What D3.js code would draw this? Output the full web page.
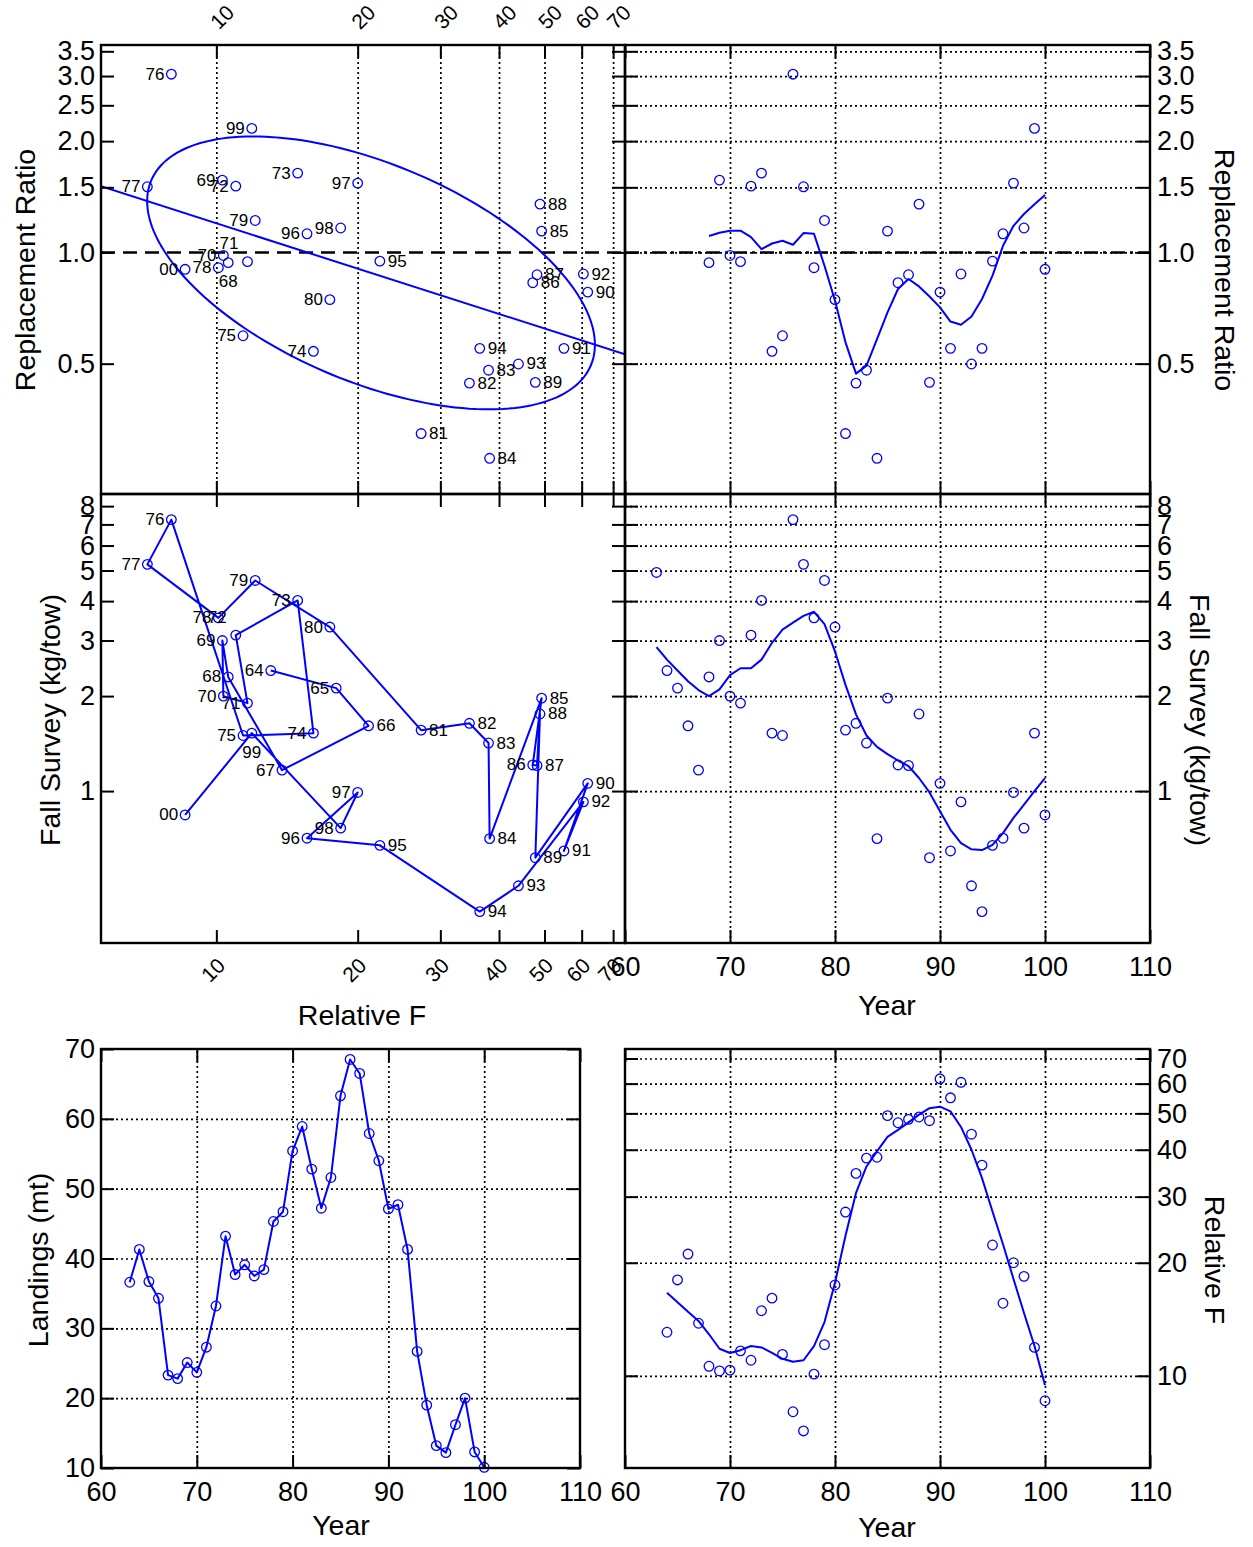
<!DOCTYPE html>
<html><head><meta charset="utf-8">
<script src="https://cdn.jsdelivr.net/npm/d3@7"></script>
<style>body{margin:0;background:#fff}</style>
</head><body>
<script>
// ---------------- DATA ----------------
const yearsAll = [63,64,65,66,67,68,69,70,71,72,73,74,75,76,77,78,79,80,81,82,83,84,85,86,87,88,89,90,91,92,93,94,95,96,97,98,99,100];
const landings = [36.6,41.3,36.7,34.3,23.3,22.8,25.1,23.7,27.3,33.2,43.2,37.7,39.1,37.5,38.4,45.3,46.7,55.4,58.9,52.8,47.2,51.6,63.3,68.5,66.5,57.9,54.0,47.1,47.7,41.3,26.7,19.0,13.2,12.2,16.2,20.0,12.3,10.1];
const fallSurvey = [4.93,2.41,2.12,1.61,1.165,2.30,3.00,2.00,1.90,3.12,4.02,1.526,1.50,7.25,5.23,3.54,4.65,3.31,1.56,1.64,1.42,0.707,1.97,1.21,1.205,1.755,0.615,1.058,0.646,0.924,0.501,0.415,0.673,0.709,0.99,0.763,1.526,0.84];
const fallSurveySmooth = [2.86,2.61,2.41,2.23,2.09,2.00,2.10,2.33,2.45,2.45,2.61,2.95,3.25,3.42,3.59,3.70,3.38,2.77,2.17,1.75,1.50,1.38,1.31,1.25,1.20,1.10,0.99,0.863,0.754,0.684,0.654,0.65,0.675,0.736,0.822,0.906,1.0,1.10];

const yearsF = [64,65,66,67,68,69,70,71,72,73,74,75,76,77,78,79,80,81,82,83,84,85,86,87,88,89,90,91,92,93,94,95,96,97,98,99,100];
const relF = [13.06,18.0,21.1,13.8,10.6,10.3,10.35,11.65,11.0,14.9,16.1,11.4,8.02,7.13,10.1,12.1,17.45,27.3,34.6,38.0,38.2,49.3,47.2,48.2,48.9,47.8,61.8,55.0,60.5,44.0,36.4,22.3,15.6,20.0,18.4,11.9,8.58];
const relFSmooth = [16.65,15.7,14.8,14.0,12.9,11.8,11.5,11.7,12.0,11.9,11.5,11.1,10.9,11.0,12.0,13.9,17.7,23.6,30.7,36.1,39.6,43.3,45.2,47.3,49.6,51.6,52.1,50.6,46.0,40.0,33.6,27.4,22.4,18.1,14.7,12.0,9.44];

const yearsRR = [68,69,70,71,72,73,74,75,76,77,78,79,80,81,82,83,84,85,86,87,88,89,90,91,92,93,94,95,96,97,98,99,100];
const repRatio = [0.938,1.569,0.981,0.944,1.511,1.639,0.540,0.595,3.035,1.505,0.909,1.22,0.745,0.3235,0.443,0.480,0.2773,1.142,0.828,0.870,1.351,0.445,0.781,0.550,0.874,0.499,0.550,0.947,1.123,1.540,1.164,2.165,0.90];
const repRatioSmooth = [1.107,1.13,1.145,1.145,1.10,1.02,1.057,1.075,1.049,1.128,1.123,0.92,0.74,0.571,0.47,0.494,0.583,0.688,0.796,0.847,0.809,0.760,0.710,0.65,0.637,0.671,0.748,0.865,1.042,1.18,1.27,1.35,1.43];

// ticks
const relFTicks = [10,20,30,40,50,60,70];
const rrTicks = [0.5,1.0,1.5,2.0,2.5,3.0,3.5];
const fsTicks = [1,2,3,4,5,6,7,8];
const yearTicks = [60,70,80,90,100,110];
const landTicks = [10,20,30,40,50,60,70];
const relFYTicks = [10,20,30,40,50,60,70];

// label placement (layout config): default 'l'
const tlLabelPos = {81:'r',82:'r',83:'r',84:'r',85:'r',86:'r',87:'r',88:'r',89:'r',90:'r',91:'r',92:'r',93:'r',94:'r',95:'r',68:'b',71:'ul'};
const mlLabelPos = {66:'r',81:'r',82:'r',83:'r',84:'r',85:'r',87:'r',88:'r',89:'r',90:'r',91:'r',92:'r',93:'r',94:'r',95:'r',72:'ul',99:'b'};

// ---------------- LAYOUT ----------------
const BLUE = '#0000ff';
const FONT = '"Liberation Sans", Arial, Helvetica, sans-serif';
const TICKFS = 27, TITLEFS = 28.5, LABFS = 17, ROTFS = 21;
const P = {
  TL:{x0:101,x1:625,y0:45,y1:494},
  TR:{x0:625,x1:1150,y0:45,y1:494},
  ML:{x0:101,x1:625,y0:494,y1:943},
  MR:{x0:625,x1:1150,y0:494,y1:943},
  BL:{x0:101,x1:580,y0:1049,y1:1468},
  BR:{x0:625,x1:1150,y0:1049,y1:1468}
};
const fDomain=[5.68,74.2], rrDomain=[0.222,3.64], fsDomain=[0.33,8.74], yrDomain=[60,110], landDomain=[10,70];
const ellipseScale = 1.575;

const svg = d3.select('body').append('svg').attr('width',1253).attr('height',1547);
svg.append('rect').attr('width',1253).attr('height',1547).attr('fill','#fff');

const yl = y => y===100 ? '00' : String(y);
const byYear = (ys, vs) => new Map(ys.map((y,i)=>[y,vs[i]]));
const fMap = byYear(yearsF, relF), fsMap = byYear(yearsAll, fallSurvey);

function grid(p, xs, ys, xt, yt){
  const g = svg.append('g');
  const st = s => s.attr('stroke','#000').attr('stroke-width',1.7).attr('stroke-dasharray','2,3');
  if (xt) g.append('g').attr('transform',`translate(0,${p.y1})`)
     .call(d3.axisBottom(xs).tickValues(xt.filter(t=>xs(t)>p.x0+2&&xs(t)<p.x1-2)).tickSize(-(p.y1-p.y0)).tickFormat(''))
     .call(a=>a.select('.domain').remove()).selectAll('line').call(st);
  if (yt) g.append('g').attr('transform',`translate(${p.x0},0)`)
     .call(d3.axisLeft(ys).tickValues(yt.filter(t=>ys(t)>p.y0+2&&ys(t)<p.y1-2)).tickSize(-(p.x1-p.x0)).tickFormat(''))
     .call(a=>a.select('.domain').remove()).selectAll('line').call(st);
}

function styleAxis(a, fs){
  a.select('.domain').remove();
  a.attr('font-family',FONT).attr('font-size',fs);
  a.selectAll('line').attr('stroke','#000').attr('stroke-width',2);
  a.selectAll('text').attr('fill','#000');
}

// frame: ticks on 4 sides inward, labels as configured
function frame(p, xs, ys, xt, yt, o){
  const L = 13;
  const g = svg.append('g');
  g.append('g').attr('transform',`translate(${p.x0},0)`)
    .call(d3.axisLeft(ys).tickValues(yt).tickSize(-L).tickPadding(6).tickFormat(o.yLeft ? o.yFmt : ''))
    .call(a=>styleAxis(a,TICKFS));
  g.append('g').attr('transform',`translate(${p.x1},0)`)
    .call(d3.axisRight(ys).tickValues(yt).tickSize(-L).tickPadding(7).tickFormat(o.yRight ? o.yFmt : ''))
    .call(a=>styleAxis(a,TICKFS));
  const top = g.append('g').attr('transform',`translate(0,${p.y0})`)
    .call(d3.axisTop(xs).tickValues(xt).tickSize(-L).tickFormat(o.xTopRot ? d3.format('d') : ''))
    .call(a=>styleAxis(a,ROTFS));
  if (o.xTopRot) top.selectAll('.tick text')
    .attr('y',null).attr('dy',null).attr('text-anchor','middle').attr('dominant-baseline','central')
    .attr('transform',`translate(5,${17-p.y0}) rotate(-45)`);
  const bot = g.append('g').attr('transform',`translate(0,${p.y1})`)
    .call(d3.axisBottom(xs).tickValues(xt).tickSize(-L).tickPadding(14)
      .tickFormat(o.xBot||o.xBotRot ? d3.format('d') : ''))
    .call(a=>styleAxis(a, o.xBotRot ? ROTFS : TICKFS));
  if (o.xBotRot) bot.selectAll('.tick text')
    .attr('y',null).attr('dy',null).attr('text-anchor','middle').attr('dominant-baseline','central')
    .attr('transform',`translate(-4,27) rotate(-45)`);
  g.append('rect').attr('x',p.x0).attr('y',p.y0).attr('width',p.x1-p.x0).attr('height',p.y1-p.y0)
    .attr('fill','none').attr('stroke','#000').attr('stroke-width',2.4);
}

function circles(data, xs, ys){
  svg.append('g').selectAll('circle').data(data).join('circle')
    .attr('cx',d=>xs(d[0])).attr('cy',d=>ys(d[1])).attr('r',4.8)
    .attr('fill','none').attr('stroke',BLUE).attr('stroke-width',1.3);
}
function line(data, xs, ys, clip){
  const p = svg.append('path').datum(data)
    .attr('d', d3.line().x(d=>xs(d[0])).y(d=>ys(d[1])))
    .attr('fill','none').attr('stroke',BLUE).attr('stroke-width',2).attr('stroke-linejoin','round');
  if (clip) p.attr('clip-path',`url(#${clip})`);
}
function labels(data, xs, ys, posMap){
  const g = svg.append('g').attr('font-family',FONT).attr('font-size',LABFS).attr('fill','#000');
  data.forEach(d=>{
    const x = xs(d[0]), y = ys(d[1]), pos = posMap[d[2]] || 'l';
    const t = g.append('text').text(yl(d[2])).attr('dominant-baseline','central');
    if (pos==='l') t.attr('x',x-7).attr('y',y).attr('text-anchor','end');
    else if (pos==='r') t.attr('x',x+8).attr('y',y).attr('text-anchor','start');
    else if (pos==='b') t.attr('x',x).attr('y',y+19).attr('text-anchor','middle');
    else if (pos==='ul') t.attr('x',x-9).attr('y',y-18).attr('text-anchor','end');
  });
}
function title(txt, x, y, rot){
  svg.append('text').text(txt).attr('font-family',FONT).attr('font-size',TITLEFS)
    .attr('text-anchor','middle').attr('dominant-baseline','central')
    .attr('transform',`translate(${x},${y})${rot?` rotate(${rot})`:''}`);
}
function hline(p, ys, v, dash){
  svg.append('line').attr('x1',p.x0).attr('x2',p.x1).attr('y1',ys(v)).attr('y2',ys(v))
    .attr('stroke','#000').attr('stroke-width',2.5).attr('stroke-dasharray',dash);
}

svg.append('clipPath').attr('id','clipTL').append('rect')
  .attr('x',P.TL.x0).attr('y',P.TL.y0).attr('width',P.TL.x1-P.TL.x0).attr('height',P.TL.y1-P.TL.y0);

// ---------------- TOP LEFT: RR vs Relative F ----------------
{
  const p=P.TL;
  const xs=d3.scaleLog().domain(fDomain).range([p.x0,p.x1]);
  const ys=d3.scaleLog().domain(rrDomain).range([p.y1,p.y0]);
  grid(p,xs,ys,relFTicks,null);
  hline(p,ys,1,'14,8');
  const pts = yearsRR.map((y,i)=>[fMap.get(y), repRatio[i], y]);
  const lx = pts.map(d=>Math.log10(d[0])), ly = pts.map(d=>Math.log10(d[1]));
  const mx=d3.mean(lx), my=d3.mean(ly);
  const sx=d3.deviation(lx), sy=d3.deviation(ly);
  const cov=d3.sum(lx.map((v,i)=>(v-mx)*(ly[i]-my)))/(lx.length-1);
  const r=cov/(sx*sy), b=cov/(sx*sx), a=my-b*mx;
  const regPts = fDomain.map(f=>[f, Math.pow(10, a+b*Math.log10(f))]);
  line(regPts,xs,ys,'clipTL');
  const ell = d3.range(0,361,2).map(deg=>{
    const t=deg*Math.PI/180;
    const ex=mx+ellipseScale*sx*Math.cos(t);
    const ey=my+ellipseScale*sy*(r*Math.cos(t)+Math.sqrt(1-r*r)*Math.sin(t));
    return [Math.pow(10,ex),Math.pow(10,ey)];
  });
  line(ell,xs,ys,'clipTL');
  circles(pts,xs,ys);
  labels(pts,xs,ys,tlLabelPos);
  frame(p,xs,ys,relFTicks,rrTicks,{yLeft:true,yFmt:d3.format('.1f'),xTopRot:true});
}
// ---------------- TOP RIGHT: RR vs Year ----------------
{
  const p=P.TR;
  const xs=d3.scaleLinear().domain(yrDomain).range([p.x0,p.x1]);
  const ys=d3.scaleLog().domain(rrDomain).range([p.y1,p.y0]);
  grid(p,xs,ys,yearTicks,rrTicks);
  hline(p,ys,1,'14,5,3,5');
  line(yearsRR.map((y,i)=>[y,repRatioSmooth[i]]),xs,ys);
  circles(yearsRR.map((y,i)=>[y,repRatio[i]]),xs,ys);
  frame(p,xs,ys,yearTicks,rrTicks,{yRight:true,yFmt:d3.format('.1f')});
}
// ---------------- MIDDLE LEFT: Fall survey vs Relative F ----------------
{
  const p=P.ML;
  const xs=d3.scaleLog().domain(fDomain).range([p.x0,p.x1]);
  const ys=d3.scaleLog().domain(fsDomain).range([p.y1,p.y0]);
  const pts = yearsF.map((y,i)=>[relF[i], fsMap.get(y), y]);
  line(pts,xs,ys);
  circles(pts,xs,ys);
  labels(pts,xs,ys,mlLabelPos);
  frame(p,xs,ys,relFTicks,fsTicks,{yLeft:true,yFmt:d3.format('d'),xBotRot:true});
}
// ---------------- MIDDLE RIGHT: Fall survey vs Year ----------------
{
  const p=P.MR;
  const xs=d3.scaleLinear().domain(yrDomain).range([p.x0,p.x1]);
  const ys=d3.scaleLog().domain(fsDomain).range([p.y1,p.y0]);
  grid(p,xs,ys,yearTicks,fsTicks);
  line(yearsAll.map((y,i)=>[y,fallSurveySmooth[i]]),xs,ys);
  circles(yearsAll.map((y,i)=>[y,fallSurvey[i]]),xs,ys);
  frame(p,xs,ys,yearTicks,fsTicks,{yRight:true,yFmt:d3.format('d'),xBot:true});
}
// ---------------- BOTTOM LEFT: Landings vs Year ----------------
{
  const p=P.BL;
  const xs=d3.scaleLinear().domain(yrDomain).range([p.x0,p.x1]);
  const ys=d3.scaleLinear().domain(landDomain).range([p.y1,p.y0]);
  grid(p,xs,ys,yearTicks,landTicks);
  const pts=yearsAll.map((y,i)=>[y,landings[i]]);
  line(pts,xs,ys);
  circles(pts,xs,ys);
  frame(p,xs,ys,yearTicks,landTicks,{yLeft:true,yFmt:d3.format('d'),xBot:true});
}
// ---------------- BOTTOM RIGHT: Relative F vs Year ----------------
{
  const p=P.BR;
  const xs=d3.scaleLinear().domain(yrDomain).range([p.x0,p.x1]);
  const ys=d3.scaleLog().domain(fDomain).range([p.y1,p.y0]);
  grid(p,xs,ys,yearTicks,relFYTicks);
  line(yearsF.map((y,i)=>[y,relFSmooth[i]]),xs,ys);
  circles(yearsF.map((y,i)=>[y,relF[i]]),xs,ys);
  frame(p,xs,ys,yearTicks,relFYTicks,{yRight:true,yFmt:d3.format('d'),xBot:true});
}

// ---------------- TITLES ----------------
title('Replacement Ratio',25,270,-90);
title('Replacement Ratio',1225,270,90);
title('Fall Survey (kg/tow)',50,720,-90);
title('Fall Survey (kg/tow)',1200,720,90);
title('Relative F',362,1015);
title('Year',887,1005);
title('Landings (mt)',38,1260,-90);
title('Year',341,1525);
title('Year',887,1527);
title('Relative F',1215,1260,90);
</script>
</body></html>
